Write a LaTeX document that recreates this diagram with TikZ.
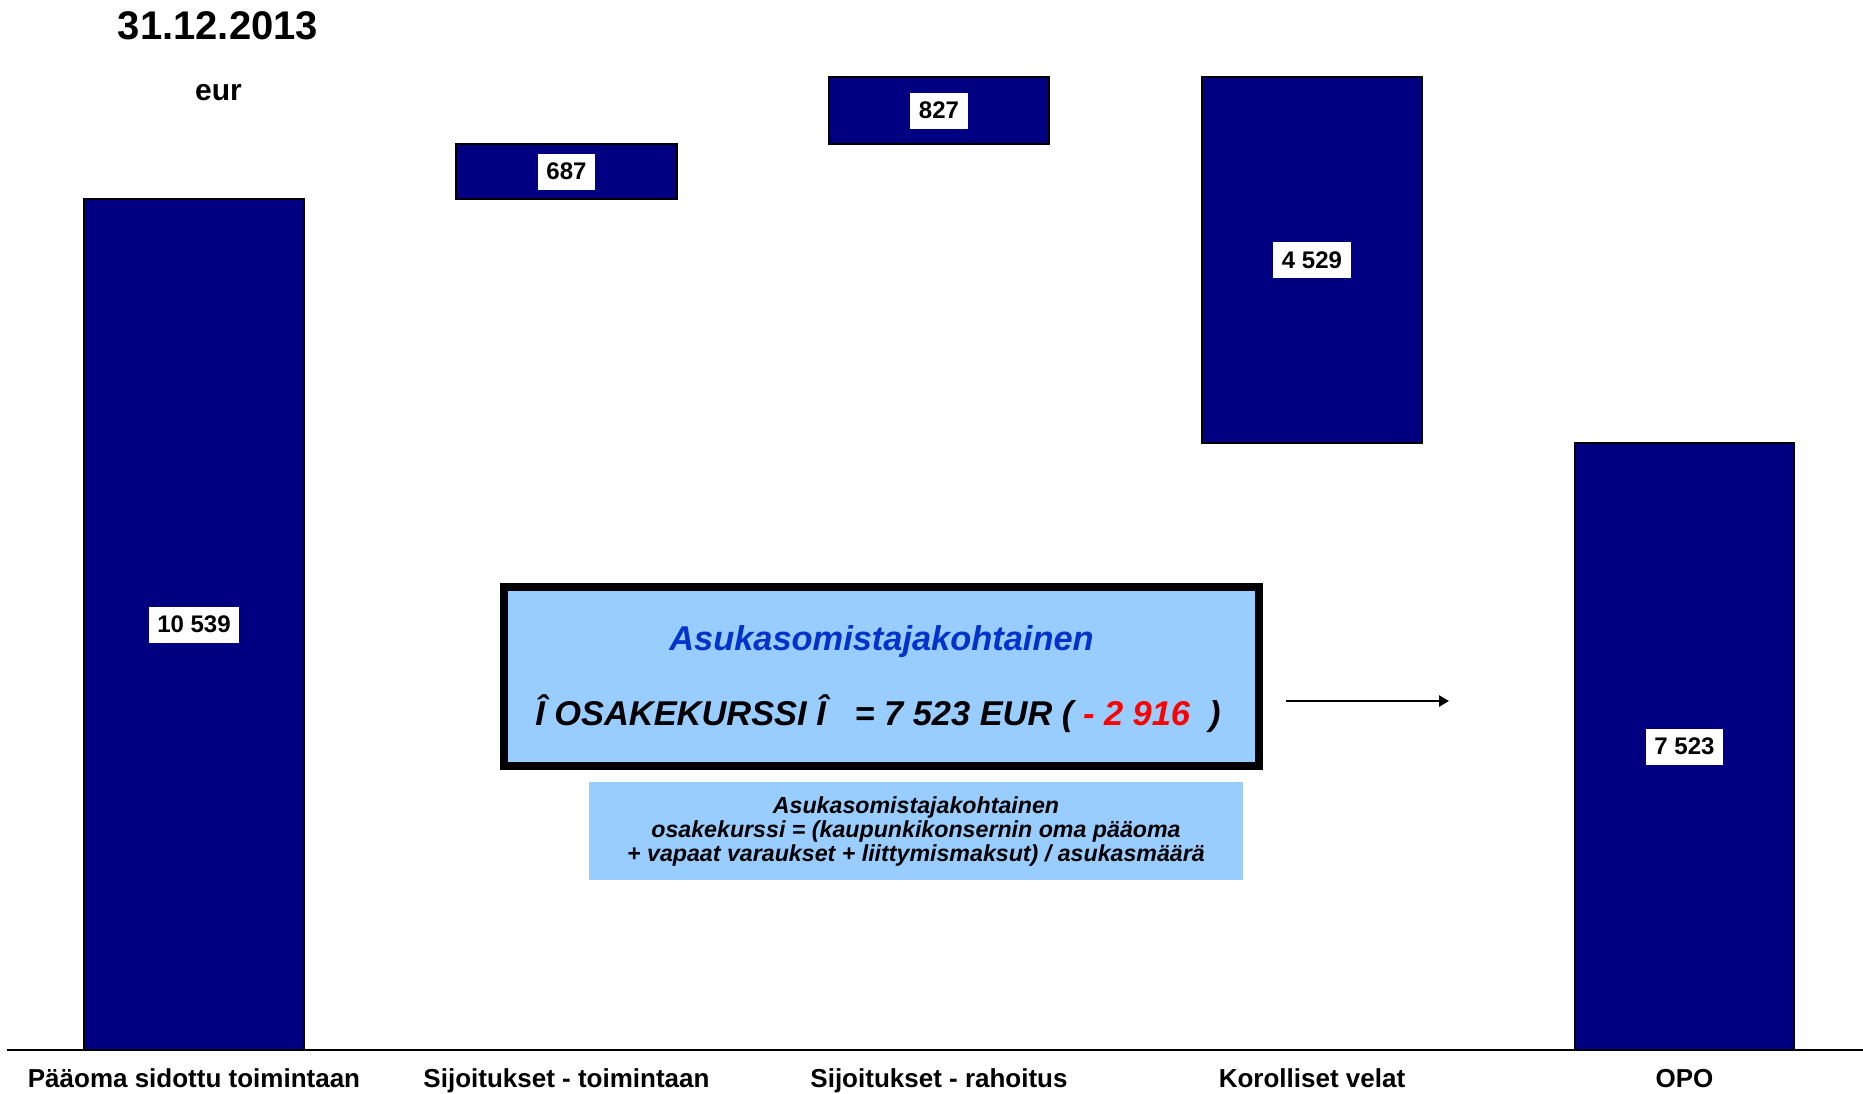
\documentclass[tikz,border=0pt]{standalone}
\usepackage{fontspec}
\setmainfont{Liberation Sans}
\usetikzlibrary{fit,arrows.meta}
\definecolor{barblue}{RGB}{0,0,128}
\definecolor{boxblue}{RGB}{153,204,255}
\definecolor{titleblue}{RGB}{0,51,204}
\definecolor{numred}{RGB}{255,0,0}
\begin{document}
\begin{tikzpicture}[x=0.5pt,y=-0.5pt,
  bar/.style={draw=black,line width=1pt,fill=barblue,inner sep=0pt},
  val/.style={fill=white,font=\fontsize{12}{14}\selectfont\bfseries,inner xsep=4.25pt,inner ysep=0pt,minimum height=18pt},
  cat/.style={anchor=base,font=\fontsize{13}{15}\selectfont\bfseries},
  bigtxt/.style={anchor=base,font=\fontsize{17.2}{20}\selectfont\bfseries\itshape},
  smalltxt/.style={anchor=base,font=\fontsize{11.6}{12}\selectfont\bfseries\itshape},
  conn/.style={line width=1.3pt,-{Triangle[length=5pt,width=5.5pt]}}]
\clip (0,0) rectangle (1863,1093);
\fill[white] (0,0) rectangle (1863,1093);

% title
\node[anchor=base,font=\fontsize{20}{24}\selectfont\bfseries] (title) at (218,39) {31.12.2013};
\node[anchor=base,font=\fontsize{15}{18}\selectfont\bfseries] (unit) at (218.5,100) {eur};

% bars
\node[bar,fit={(84,199) (304,1050)}] (b1) {};
\node[bar,fit={(456,144) (677,199)}] (b2) {};
\node[bar,fit={(829,77) (1049,144)}] (b3) {};
\node[bar,fit={(1202,77) (1422,443)}] (b4) {};
\node[bar,fit={(1575,443) (1794,1050)}] (b5) {};

\node[val] (v1) at (b1.center) {10 539};
\node[val] (v2) at (b2.center) {687};
\node[val] (v3) at (b3.center) {827};
\node[val] (v4) at (b4.center) {4 529};
\node[val] (v5) at (b5.center) {7 523};

% axis
\coordinate (axL) at (7,1050);
\coordinate (axR) at (1863,1050);
\draw[line width=1pt] (axL) -- (axR);

% categories
\node[cat] (c1) at (194,1087) {Pääoma sidottu toimintaan};
\node[cat] (c2) at (566.5,1087) {Sijoitukset - toimintaan};
\node[cat] (c3) at (939,1087) {Sijoitukset - rahoitus};
\node[cat] (c4) at (1312,1087) {Korolliset velat};
\node[cat] (c5) at (1684.5,1087) {OPO};

% main box
\node[draw=black,line width=4pt,fill=boxblue,inner sep=0pt,fit={(504,587) (1259,766)}] (mainbox) {};
\node[bigtxt,text=titleblue] (h1) at (881.5,650) {Asukasomistajakohtainen};
\node[bigtxt] (h2) at (878,725) {Î OSAKEKURSSI Î\ \ \ = 7 523 EUR ( \textcolor{numred}{- 2 916}\ \ )};

% note box
\node[fill=boxblue,inner sep=0pt,fit={(589,782) (1243,880)}] (note) {};
\node[smalltxt] (n1) at (916,813) {Asukasomistajakohtainen};
\node[smalltxt] (n2) at (916,837) {osakekurssi = (kaupunkikonsernin oma pääoma};
\node[smalltxt] (n3) at (916,861) {+ vapaat varaukset + liittymismaksut) / asukasmäärä};

% arrow
\coordinate (arS) at (1286,701);
\coordinate (arE) at (1449,701);
\draw[conn] (arS) -- (arE);
\end{tikzpicture}
\end{document}
